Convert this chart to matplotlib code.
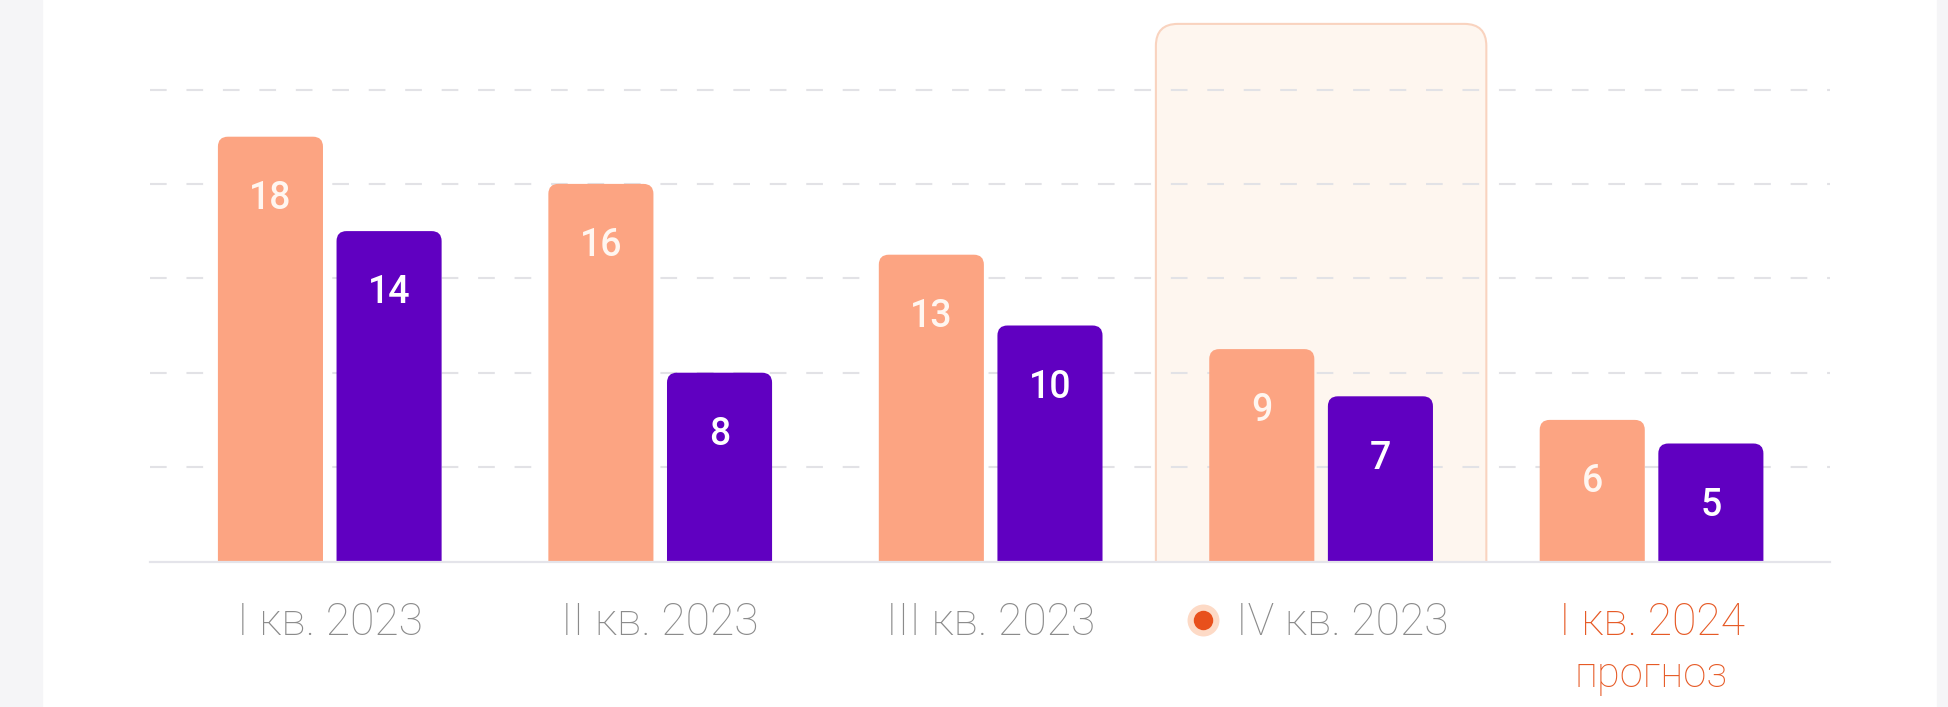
import matplotlib
matplotlib.use("Agg")
import matplotlib.pyplot as plt
import numpy as np
from matplotlib.patches import FancyBboxPatch, Rectangle
from matplotlib.transforms import ScaledTranslation

# data
quarters = ["I кв. 2023", "II кв. 2023", "III кв. 2023", "IV кв. 2023", "I кв. 2024"]
series_a = [18, 16, 13, 9, 6]      # orange bars
series_b = [14, 8, 10, 7, 5]       # purple bars
grid_ticks = [4, 8, 12, 16, 20]
current_idx = 3                    # highlighted quarter
forecast_idx = 4
forecast_note = "прогноз"

ORANGE = "#fca482"
PURPLE = "#6000c1"
GRAY_TXT = "#8b8b8b"
RED_TXT = "#e65a26"

plt.rcParams["font.family"] = ["Roboto", "DejaVu Sans"]

W, H = 1948, 707
fig = plt.figure(figsize=(W / 100, H / 100), dpi=100)
fig.patch.set_facecolor("white")

# grey side strips
fig.patches.append(Rectangle((0, 0), 42 / W, 1, transform=fig.transFigure,
                             color="#f5f5f7", zorder=0))
fig.patches.append(Rectangle((1937 / W, 0), 11 / W, 1, transform=fig.transFigure,
                             color="#f5f5f7", zorder=0))

ax = fig.add_axes([150 / W, 145.5 / H, 1680 / W, 542.8 / H])
ax.set_xlim(-0.544, 4.540)
ax.set_ylim(0, 23)
ax.axis("off")

px_x = ax.transData.transform((1, 0))[0] - ax.transData.transform((0, 0))[0]
px_y = ax.transData.transform((0, 1))[1] - ax.transData.transform((0, 0))[1]
aspect = px_x / px_y


def rounded_bar(x0, w, top, radius_px, **kw):
    # rounded top corners; the bottom goes below 0 and is clipped by the axes
    r = radius_px / px_x
    p = FancyBboxPatch((x0, -2), w, top + 2,
                       boxstyle=f"round,pad=0,rounding_size={r}",
                       mutation_aspect=aspect, **kw)
    ax.add_patch(p)
    return p


x = np.arange(len(quarters))
bw = 0.318
off = 0.1795

# highlighted quarter background
rounded_bar(current_idx - 0.5, 1.0, 22.78, 22, facecolor="#fef6ef",
            edgecolor="#f9d3bf", linewidth=1.5, zorder=0.5)

# dashed grid + baseline
for t in grid_ticks:
    ax.axhline(t, color="#e2e2e6", lw=1.5, ls=(0, (8, 9.5)), zorder=1)
ax.axhline(0, color="#e4e4ea", lw=1.6, zorder=3, clip_on=False)

for xi, a, b in zip(x, series_a, series_b):
    rounded_bar(xi - off - bw / 2, bw, a, 10, facecolor=ORANGE, edgecolor="none", zorder=2)
    rounded_bar(xi + off - bw / 2, bw, b, 10, facecolor=PURPLE, edgecolor="none", zorder=2)
    ax.annotate(str(a), (xi - off, a), xytext=(0, -52), textcoords="offset points",
                ha="center", va="baseline", color="#fff6f0", fontsize=27,
                fontweight="medium", zorder=5)
    ax.annotate(str(b), (xi + off, b), xytext=(0, -52), textcoords="offset points",
                ha="center", va="baseline", color="white", fontsize=27,
                fontweight="medium", zorder=5)

# category labels
for i, q in enumerate(quarters):
    color = RED_TXT if i == forecast_idx else GRAY_TXT
    dx = 15 if i == current_idx else 0
    ax.annotate(q, (x[i], 0), xytext=(dx, -53), textcoords="offset points",
                ha="center", va="baseline", color=color, fontsize=32,
                fontweight="light", annotation_clip=False)
ax.annotate(forecast_note, (x[forecast_idx], 0), xytext=(0, -90.4),
            textcoords="offset points", ha="center", va="baseline",
            color=RED_TXT, fontsize=30, fontweight="light", annotation_clip=False)

# marker dot before the current quarter
dot_tr = ax.transData + ScaledTranslation(-118 / 100, -58.5 / 100, fig.dpi_scale_trans)
ax.plot([x[current_idx]], [0], "o", ms=23, color="#fddac6", mec="none",
        transform=dot_tr, clip_on=False, zorder=4)
ax.plot([x[current_idx]], [0], "o", ms=14, color="#e8501c", mec="none",
        transform=dot_tr, clip_on=False, zorder=5)

fig.savefig("out.png", dpi=100)
